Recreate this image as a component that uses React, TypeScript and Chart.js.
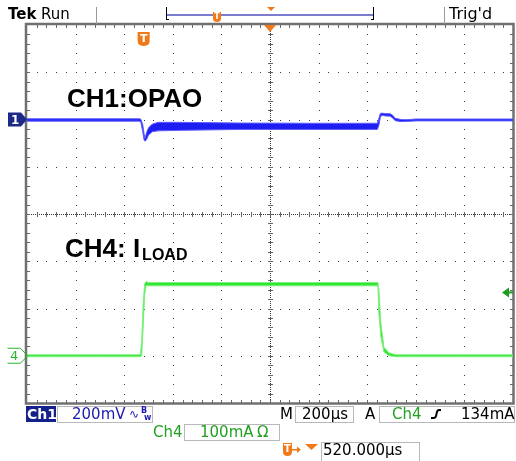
import React, { useEffect, useRef } from "react";
import { Chart, registerables } from "chart.js";

Chart.register(...registerables);

// Scope settings
const timePerDivUs = 200;
const triggerDelayUs = 520;
const ch1MvPerDiv = 200;
const ch4MaPerDiv = 100;
const ch1PositionDiv = 2;
const ch4PositionDiv = -3;
const triggerLevelMa = 134;

// Status texts
const ch1ScaleLabel = "200mV";
const ch4ScaleLabel = "100mA";
const timeScaleLabel = "200µs";
const triggerLevelLabel = "134mA";
const delayLabel = "520.000µs";
const ch1Title = "CH1:OPAO";
const ch4TitleMain = "CH4: I";
const ch4TitleSub = "LOAD";

// CH1 envelope (mV, relative to its marker), time in µs relative to trigger
const ch1Time = [-480, -20, -12, -4, 2, 6, 12, 20, 35, 60, 150, 400, 700, 962, 968, 974, 980, 995, 1015, 1025, 1035, 1060, 1080, 1120, 1520];
const ch1High = [3, 3, 2, -20, -62, -80, -55, -35, -20, -12, -12, -15, -16, -16, 5, 25, 27, 25, 24, 18, 5, 0, -1, 2, 2];
const ch1Low = [-7, -7, -9, -50, -88, -92, -85, -66, -52, -48, -46, -42, -42, -42, -25, 8, 18, 15, 14, 6, -5, -9, -8, -6, -6];

// CH4 envelope (mA)
const ch4Time = [-480, -14, -8, -2, 4, 10, 20, 500, 964, 968, 976, 989, 1010, 1040, 1520];
const ch4High = [2, 2, 30, 110, 152, 157, 155, 155, 155, 140, 70, 18, 6, 2, 2];
const ch4Low = [-2, -2, 0, 60, 128, 149, 148, 148, 148, 90, 40, 8, 0, -2, -2];

const SANS = '"DejaVu Sans", Verdana, sans-serif';
const ARIAL = '"Liberation Sans", Arial, sans-serif';

const toCh1 = (mv: number) => ch1PositionDiv + mv / ch1MvPerDiv;
const toCh4 = (ma: number) => ch4PositionDiv + ma / ch4MaPerDiv;

const graticule = {
  id: "graticule",
  beforeDatasetsDraw(chart: any) {
    const { ctx, chartArea: a } = chart;
    const w = a.right - a.left;
    const h = a.bottom - a.top;
    const dx = w / 10;
    const dy = h / 8;
    ctx.save();
    ctx.fillStyle = "#3a3a3a";
    for (let i = 1; i < 10; i++) {
      if (i === 5) continue;
      const x = Math.round(a.left + i * dx);
      for (let j = 1; j < 40; j++) ctx.fillRect(x, Math.round(a.top + (j * dy) / 5), 1, 1);
    }
    for (let j = 1; j < 8; j++) {
      if (j === 4) continue;
      const y = Math.round(a.top + j * dy);
      for (let i = 1; i < 50; i++) ctx.fillRect(Math.round(a.left + (i * dx) / 5), y, 1, 1);
    }
    const cx = Math.round(a.left + 5 * dx);
    const cy = Math.round(a.top + 4 * dy);
    for (let x = a.left; x < a.right; x += 2) ctx.fillRect(x, cy, 1, 1);
    for (let y = a.top; y < a.bottom; y += 2) ctx.fillRect(cx, y, 1, 1);
    ctx.fillStyle = "#666";
    for (let i = 1; i < 50; i++) {
      const x = Math.round(a.left + (i * dx) / 5);
      ctx.fillRect(x, cy - 2, 1, 5);
      ctx.fillRect(x, a.top, 1, 3);
      ctx.fillRect(x, a.bottom - 3, 1, 3);
    }
    for (let j = 1; j < 40; j++) {
      const y = Math.round(a.top + (j * dy) / 5);
      ctx.fillRect(cx - 2, y, 5, 1);
      ctx.fillRect(a.left, y, 3, 1);
      ctx.fillRect(a.right - 3, y, 3, 1);
    }
    ctx.strokeStyle = "#707070";
    ctx.lineWidth = 2.5;
    ctx.strokeRect(a.left - 1, a.top - 1, w + 1.5, h + 1.5);
    ctx.restore();
  },
};

function shieldT(ctx: CanvasRenderingContext2D, x: number, y: number, w: number, h: number, size: number) {
  ctx.fillStyle = "#f07a1a";
  ctx.beginPath();
  ctx.moveTo(x, y);
  ctx.lineTo(x + w, y);
  ctx.lineTo(x + w, y + h * 0.65);
  ctx.quadraticCurveTo(x + w, y + h, x + w / 2, y + h);
  ctx.quadraticCurveTo(x, y + h, x, y + h * 0.65);
  ctx.closePath();
  ctx.fill();
  ctx.fillStyle = "#fff";
  ctx.font = `bold ${size}px ${SANS}`;
  ctx.textAlign = "center";
  ctx.textBaseline = "middle";
  ctx.fillText("T", x + w / 2, y + h / 2);
  ctx.textAlign = "left";
  ctx.textBaseline = "alphabetic";
}

function box(ctx: CanvasRenderingContext2D, x: number, y: number, w: number, h: number) {
  ctx.strokeStyle = "#b8b8b8";
  ctx.lineWidth = 1;
  ctx.strokeRect(x + 0.5, y + 0.5, w, h);
}

const overlay = {
  id: "overlay",
  afterDraw(chart: any) {
    const { ctx, chartArea: a } = chart;
    const xs = chart.scales.x;
    const ys = chart.scales.y;
    ctx.save();
    ctx.textAlign = "left";
    ctx.textBaseline = "alphabetic";

    // Top bar
    ctx.fillStyle = "#000";
    ctx.font = `bold 15px ${SANS}`;
    ctx.fillText("Tek", 8, 19);
    ctx.font = `15px ${SANS}`;
    ctx.fillText("Run", 41, 19);
    ctx.fillStyle = "#999";
    ctx.fillRect(96, 7, 1, 17);
    ctx.fillRect(444, 7, 1, 17);
    ctx.fillStyle = "#000";
    ctx.font = `16px ${SANS}`;
    ctx.fillText("Trig'd", 449, 19);
    // record bar
    ctx.fillStyle = "#7b7bd0";
    ctx.fillRect(167, 14, 207, 2);
    ctx.fillStyle = "#000";
    ctx.fillRect(166, 7, 1, 13);
    ctx.fillRect(166, 19, 3, 1);
    ctx.fillRect(373, 7, 1, 13);
    ctx.fillRect(371, 19, 3, 1);
    shieldT(ctx, 213, 12, 8, 10, 8);
    ctx.fillStyle = "#f07a1a";
    ctx.beginPath();
    ctx.moveTo(267, 7);
    ctx.lineTo(275, 7);
    ctx.lineTo(271, 11);
    ctx.closePath();
    ctx.fill();

    // trigger position markers
    const cx = (a.left + a.right) / 2;
    ctx.beginPath();
    ctx.moveTo(cx - 6, a.top);
    ctx.lineTo(cx + 6, a.top);
    ctx.lineTo(cx, a.top + 7);
    ctx.closePath();
    ctx.fill();
    const tx = xs.getPixelForValue(0);
    shieldT(ctx, tx - 6, 32, 12, 14, 11);

    // Titles
    ctx.fillStyle = "#000";
    ctx.font = `bold 26px ${ARIAL}`;
    ctx.fillText(ch1Title, 67, 107);
    ctx.fillText(ch4TitleMain, 65, 257);
    const mw = ctx.measureText(ch4TitleMain).width;
    ctx.font = `bold 16px ${ARIAL}`;
    ctx.fillText(ch4TitleSub, 65 + mw + 2, 260);

    // Ch1 marker
    const y1 = ys.getPixelForValue(ch1PositionDiv);
    ctx.fillStyle = "#1c2a86";
    ctx.beginPath();
    ctx.moveTo(8, y1 - 7);
    ctx.lineTo(21, y1 - 7);
    ctx.lineTo(27, y1);
    ctx.lineTo(21, y1 + 7);
    ctx.lineTo(8, y1 + 7);
    ctx.closePath();
    ctx.fill();
    ctx.fillStyle = "#fff";
    ctx.font = `bold 12px ${SANS}`;
    ctx.textBaseline = "middle";
    ctx.fillText("1", 11, y1 + 1);

    // Ch4 marker
    const y4 = ys.getPixelForValue(ch4PositionDiv);
    ctx.strokeStyle = "#2fb52f";
    ctx.lineWidth = 1;
    ctx.beginPath();
    ctx.moveTo(7.5, y4 - 7.5);
    ctx.lineTo(20.5, y4 - 7.5);
    ctx.lineTo(27.5, y4);
    ctx.lineTo(20.5, y4 + 7.5);
    ctx.lineTo(7.5, y4 + 7.5);
    ctx.stroke();
    ctx.fillStyle = "#2fb52f";
    ctx.font = `13px ${SANS}`;
    ctx.fillText("4", 10, y4 + 1);
    ctx.textBaseline = "alphabetic";

    // Trigger level arrow
    const yt = ys.getPixelForValue(toCh4(triggerLevelMa));
    ctx.fillStyle = "#1f9a1f";
    ctx.beginPath();
    ctx.moveTo(502, yt);
    ctx.lineTo(509, yt - 5);
    ctx.lineTo(509, yt + 5);
    ctx.closePath();
    ctx.fill();
    ctx.fillRect(508, yt - 1, 5, 2);

    // Bottom status rows
    ctx.fillStyle = "#14218a";
    ctx.fillRect(26, 406, 30, 16);
    ctx.fillStyle = "#fff";
    ctx.font = `bold 14px ${SANS}`;
    ctx.fillText("Ch1", 27, 419);
    box(ctx, 57, 406, 95, 16);
    ctx.fillStyle = "#1c1cb0";
    ctx.font = `15px ${SANS}`;
    ctx.fillText(ch1ScaleLabel, 72, 419);
    ctx.font = `12px ${SANS}`;
    ctx.fillText("∿", 129, 418);
    ctx.font = `bold 8px ${SANS}`;
    ctx.fillText("B", 141, 413);
    ctx.fillText("w", 144, 420);

    ctx.fillStyle = "#000";
    ctx.font = `15px ${SANS}`;
    ctx.fillText("M", 280, 419);
    box(ctx, 295, 406, 58, 16);
    ctx.fillText(timeScaleLabel, 302, 419);
    ctx.fillText("A", 365, 419);
    box(ctx, 379, 406, 135, 16);
    ctx.fillStyle = "#22a022";
    ctx.fillText("Ch4", 392, 419);
    ctx.strokeStyle = "#000";
    ctx.lineWidth = 2;
    ctx.beginPath();
    ctx.moveTo(431, 418);
    ctx.lineTo(434, 418);
    ctx.quadraticCurveTo(436, 418, 436.5, 414);
    ctx.quadraticCurveTo(437, 410, 439, 410);
    ctx.lineTo(441, 410);
    ctx.stroke();
    ctx.fillStyle = "#000";
    ctx.fillText(triggerLevelLabel, 461, 419);

    ctx.fillStyle = "#22a022";
    ctx.fillText("Ch4", 153, 437);
    box(ctx, 184, 424, 95, 16);
    ctx.fillText(ch4ScaleLabel, 200, 437);
    ctx.fillText("Ω", 257, 437);

    shieldT(ctx, 283, 443, 9, 13, 10);
    ctx.fillStyle = "#f07a1a";
    ctx.fillRect(292, 449, 6, 1.5);
    ctx.beginPath();
    ctx.moveTo(297, 446.5);
    ctx.lineTo(301, 449.7);
    ctx.lineTo(297, 453);
    ctx.closePath();
    ctx.fill();
    ctx.beginPath();
    ctx.moveTo(305, 444);
    ctx.lineTo(318, 444);
    ctx.lineTo(311.5, 450);
    ctx.closePath();
    ctx.fill();
    box(ctx, 321, 442, 98, 20);
    ctx.fillStyle = "#000";
    ctx.font = `15px ${SANS}`;
    ctx.fillText(delayLabel, 323, 455);

    ctx.restore();
  },
};

export default function App() {
  const canvasRef = useRef<HTMLCanvasElement | null>(null);

  useEffect(() => {
    const canvas = canvasRef.current;
    if (!canvas) return;
    const xMin = triggerDelayUs - 5 * timePerDivUs;
    const xMax = triggerDelayUs + 5 * timePerDivUs;
    const chart = new Chart(canvas, {
      type: "line",
      data: {
        datasets: [
          {
            data: ch1Time.map((t, i) => ({ x: t, y: toCh1(ch1High[i]) })),
            borderColor: "#5c5cff",
            borderWidth: 1,
            fill: false,
            pointRadius: 0,
          },
          {
            data: ch1Time.map((t, i) => ({ x: t, y: toCh1(ch1Low[i]) })),
            borderColor: "#5c5cff",
            borderWidth: 1,
            backgroundColor: "#1e1ef2",
            fill: "-1",
            pointRadius: 0,
          },
          {
            data: ch4Time.map((t, i) => ({ x: t, y: toCh4(ch4High[i]) })),
            borderColor: "#7cf07c",
            borderWidth: 1,
            fill: false,
            pointRadius: 0,
          },
          {
            data: ch4Time.map((t, i) => ({ x: t, y: toCh4(ch4Low[i]) })),
            borderColor: "#7cf07c",
            borderWidth: 1,
            backgroundColor: "#33e633",
            fill: "-1",
            pointRadius: 0,
          },
        ],
      },
      options: {
        animation: false,
        responsive: false,
        devicePixelRatio: 1,
        layout: { padding: { left: 27, right: 3, top: 25, bottom: 58 } },
        scales: {
          x: { type: "linear", min: xMin, max: xMax, display: false },
          y: { type: "linear", min: -4, max: 4, display: false },
        },
        elements: { line: { tension: 0 }, point: { radius: 0 } },
        plugins: {
          legend: { display: false },
          tooltip: { enabled: false },
          filler: { propagate: false },
        },
      },
      plugins: [graticule, overlay],
    });
    return () => chart.destroy();
  }, []);

  return (
    <div style={{ position: "absolute", left: 0, top: 0, width: 516, height: 461, background: "#fff" }}>
      <canvas ref={canvasRef} width={516} height={461} style={{ width: 516, height: 461, display: "block" }} />
    </div>
  );
}
